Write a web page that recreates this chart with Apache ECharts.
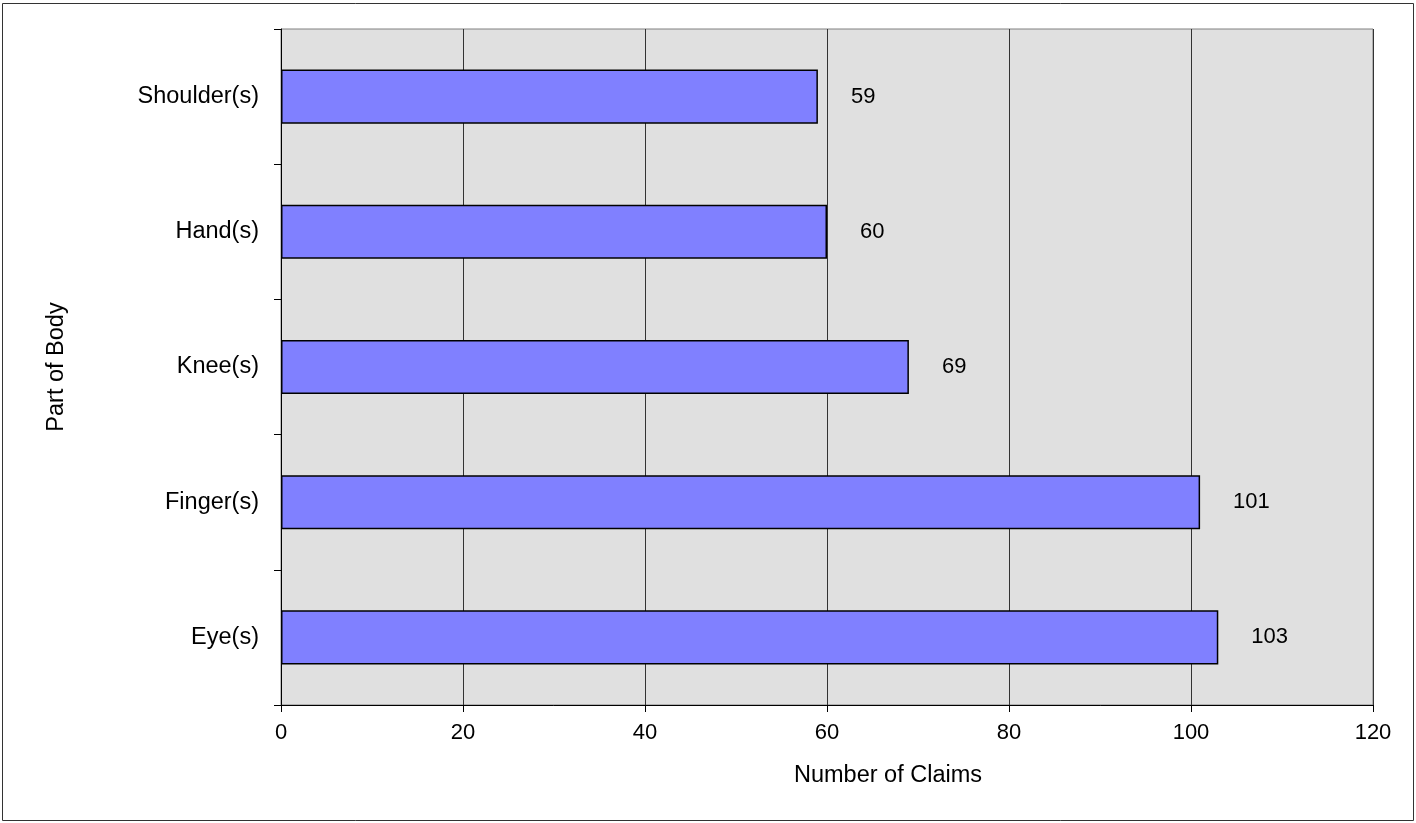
<!DOCTYPE html>
<html>
<head>
<meta charset="utf-8">
<script src="https://cdn.jsdelivr.net/npm/echarts@6/dist/echarts.min.js"></script>
<style>html,body{margin:0;padding:0;background:#fff}#c{width:1416px;height:823px}</style>
</head>
<body>
<div id="c"></div>
<script>
const categories = ['Eye(s)', 'Finger(s)', 'Knee(s)', 'Hand(s)', 'Shoulder(s)'];
const claims = [103, 101, 69, 60, 59];
const xTicks = { min: 0, max: 120, interval: 20 };

const chart = echarts.init(document.getElementById('c'));
chart.setOption({
  animation: false,
  textStyle: { fontFamily: 'Liberation Sans, Arial, sans-serif' },
  graphic: [{
    type: 'rect', shape: { x: 2.5, y: 3.5, width: 1411, height: 817 },
    style: { fill: 'none', stroke: '#333', lineWidth: 1 }, z: -10
  }],
  grid: {
    left: 281, top: 29, right: 43, bottom: 118,
    show: true, backgroundColor: '#E0E0E0', borderColor: '#808080', borderWidth: 1
  },
  xAxis: {
    type: 'value', min: xTicks.min, max: xTicks.max, interval: xTicks.interval,
    name: 'Number of Claims', nameLocation: 'middle', nameGap: 59,
    nameTextStyle: { fontSize: 23.5, color: '#000', padding: [0, 0, 0, 122] },
    axisLine: { show: true, lineStyle: { color: '#000', width: 1 } },
    axisTick: { show: true, length: 7, lineStyle: { color: '#000' } },
    axisLabel: { fontSize: 22, color: '#000', margin: 17 },
    splitLine: { show: true, lineStyle: { color: '#333', width: 1 } }
  },
  yAxis: {
    type: 'category', data: categories,
    name: 'Part of Body', nameLocation: 'middle', nameGap: 212,
    nameTextStyle: { fontSize: 23.5, color: '#000' },
    axisLine: { show: true, lineStyle: { color: '#000', width: 1 } },
    axisTick: { show: true, length: 7, lineStyle: { color: '#000' } },
    axisLabel: { fontSize: 23.5, color: '#000', margin: 22 },
    splitLine: { show: false }
  },
  series: [{
    type: 'bar', data: claims, barCategoryGap: '60%',
    itemStyle: { color: '#8080FF', borderColor: '#000', borderWidth: 1.5 },
    label: { show: true, position: 'right', distance: 33, fontSize: 22, color: '#000' }
  }]
});
</script>
</body>
</html>
